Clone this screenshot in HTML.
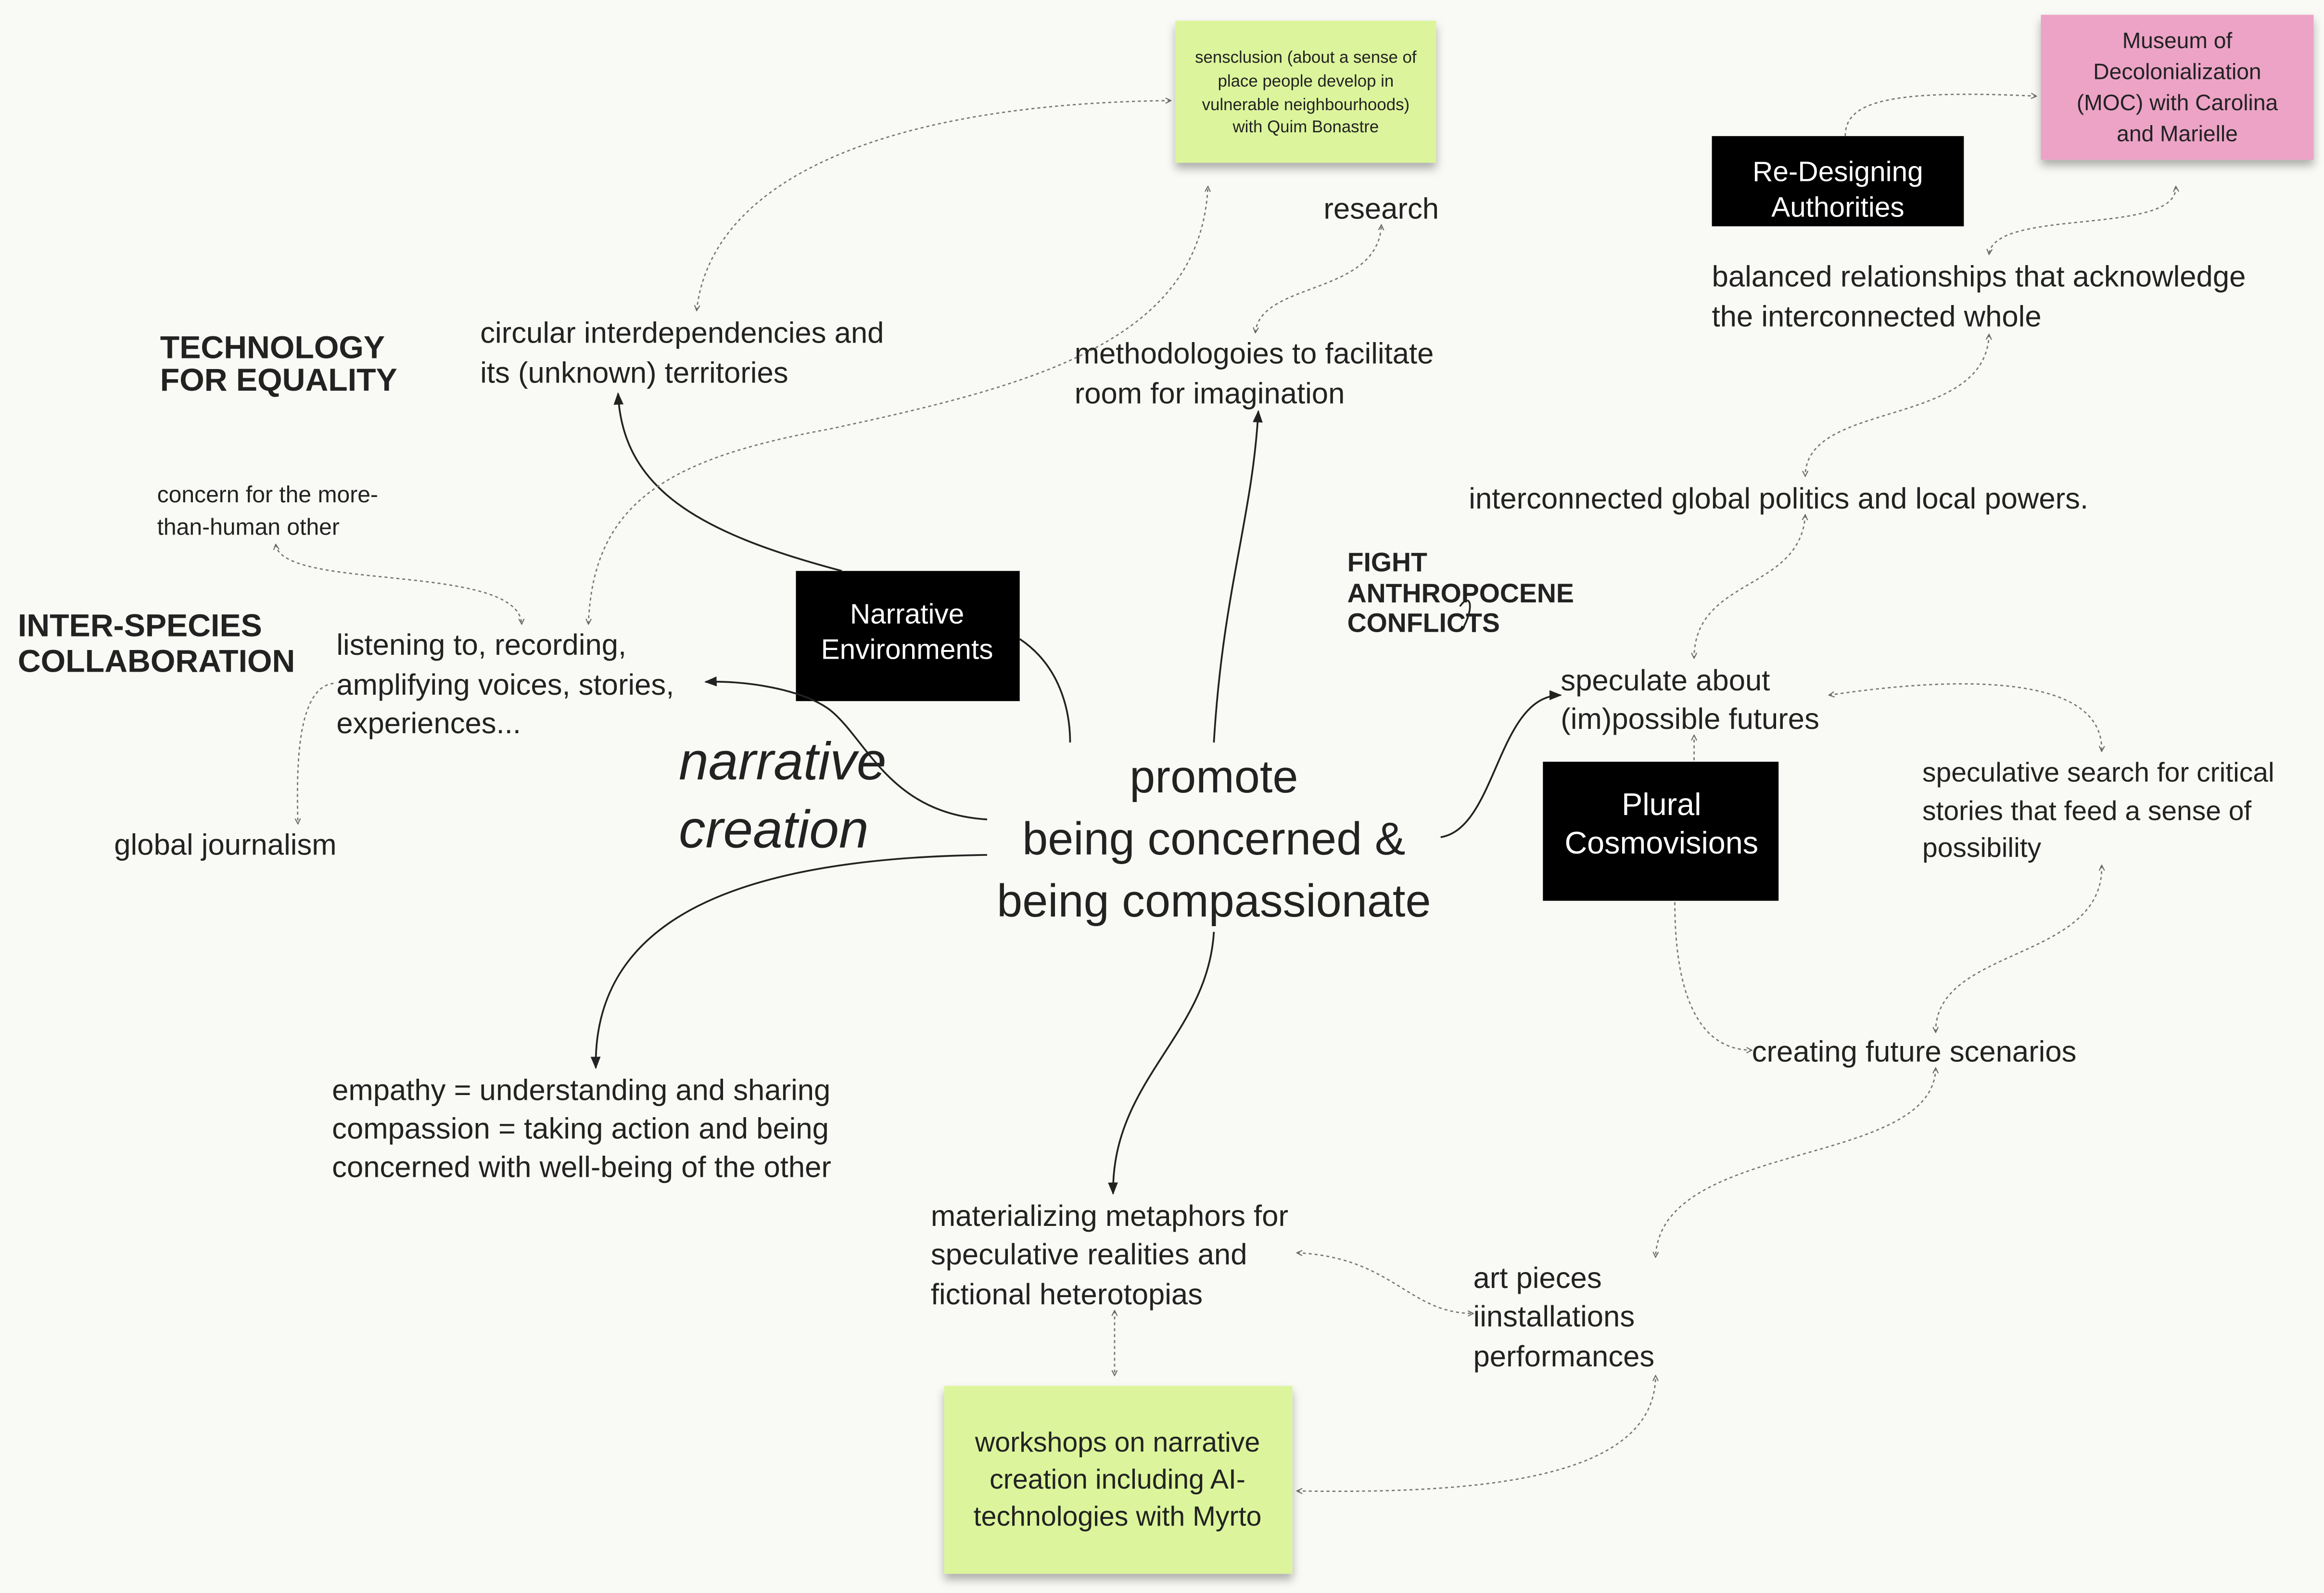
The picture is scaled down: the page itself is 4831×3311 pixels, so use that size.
<!DOCTYPE html>
<html><head><meta charset="utf-8"><style>
html,body{margin:0;padding:0;background:#f9f9f5;}
svg{display:block}
text{font-family:"Liberation Sans",sans-serif;fill:#222;dominant-baseline:middle;transform:translateY(2.5px)}
</style></head><body>
<svg width="4831" height="3311" viewBox="0 0 1568 1077" preserveAspectRatio="none" xmlns="http://www.w3.org/2000/svg">
<defs>
<marker id="ah" viewBox="0 0 10 10" refX="9" refY="5" markerWidth="7" markerHeight="7" orient="auto-start-reverse"><path d="M0,1 L10,5 L0,9 z" fill="#222"/></marker>
<marker id="dh" viewBox="0 0 10 10" refX="9" refY="5" markerWidth="5" markerHeight="5" orient="auto-start-reverse"><path d="M1,1 L9,5 L1,9" fill="none" stroke="#666" stroke-width="1.5"/></marker>
<filter id="sh" x="-10%" y="-10%" width="120%" height="140%"><feDropShadow dx="0" dy="4" stdDeviation="3" flood-color="#000" flood-opacity="0.3"/></filter>
</defs>
<rect width="1568" height="1077" fill="#f9f9f5"/>

<rect x="793" y="14" width="176" height="96" fill="#dcf59c" filter="url(#sh)"/>
<g font-size="11.3" text-anchor="middle">
<text x="881" y="37">sensclusion (about a sense of</text>
<text x="881" y="53">place people develop in</text>
<text x="881" y="69">vulnerable neighbourhoods)</text>
<text x="881" y="84">with Quim Bonastre</text>
</g>
<rect x="1377" y="10" width="184" height="98" fill="#eca3c6" filter="url(#sh)"/>
<g font-size="15" text-anchor="middle">
<text x="1469" y="26">Museum of</text>
<text x="1469" y="47">Decolonialization</text>
<text x="1469" y="68">(MOC) with Carolina</text>
<text x="1469" y="89">and Marielle</text>
</g>
<rect x="637" y="937" width="235" height="127" fill="#dcf59c" filter="url(#sh)"/>
<g font-size="18.6" text-anchor="middle">
<text x="754" y="974">workshops on narrative</text>
<text x="754" y="999">creation including AI-</text>
<text x="754" y="1024">technologies with Myrto</text>
</g>

<rect x="1155" y="92" width="170" height="61" fill="#000"/>
<text x="1240" y="115" font-size="19" text-anchor="middle" style="fill:#fff">Re-Designing</text>
<text x="1240" y="139" font-size="19" text-anchor="middle" style="fill:#fff">Authorities</text>
<rect x="537" y="386" width="151" height="88" fill="#000"/>
<text x="612" y="414" font-size="19" text-anchor="middle" style="fill:#fff">Narrative</text>
<text x="612" y="438" font-size="19" text-anchor="middle" style="fill:#fff">Environments</text>
<rect x="1041" y="515" width="159" height="94" fill="#000"/>
<text x="1121" y="543" font-size="21" text-anchor="middle" style="fill:#fff">Plural</text>
<text x="1121" y="569" font-size="21" text-anchor="middle" style="fill:#fff">Cosmovisions</text>

<g fill="none" stroke="#222" stroke-width="1.2">
<path d="M568,386 C470,360 420,330 417,266" marker-end="url(#ah)"/>
<path d="M688,432 C715,450 722,480 722,502"/>
<path d="M666,554 C600,550 585,500 560,480 C540,465 500,460 476,461" marker-end="url(#ah)"/>
<path d="M666,578 C500,580 400,620 402,722" marker-end="url(#ah)"/>
<path d="M819,502 C825,400 845,350 849,278" marker-end="url(#ah)"/>
<path d="M972,566 C1010,560 1010,470 1053,470" marker-end="url(#ah)"/>
<path d="M819,630 C815,700 750,730 751,807" marker-end="url(#ah)"/>
<path d="M985,410 C992,400 995,410 987,425" />
</g>

<g fill="none" stroke="#777" stroke-width="0.9" stroke-dasharray="2,2">
<path d="M470,210 C480,120 600,70 790,68" marker-start="url(#dh)" marker-end="url(#dh)"/>
<path d="M397,422 C400,340 450,310 560,290 C700,260 810,230 815,126" marker-start="url(#dh)" marker-end="url(#dh)"/>
<path d="M847,225 C850,190 930,200 932,152" marker-start="url(#dh)" marker-end="url(#dh)"/>
<path d="M1245,92 C1245,70 1270,60 1374,65" marker-end="url(#dh)"/>
<path d="M1468,126 C1470,160 1345,140 1342,172" marker-start="url(#dh)" marker-end="url(#dh)"/>
<path d="M1342,226 C1340,290 1218,270 1218,322" marker-start="url(#dh)" marker-end="url(#dh)"/>
<path d="M1218,348 C1215,400 1143,390 1143,445" marker-start="url(#dh)" marker-end="url(#dh)"/>
<path d="M1143,514 L1143,497" marker-end="url(#dh)"/>
<path d="M1234,470 C1300,460 1420,450 1418,508" marker-start="url(#dh)" marker-end="url(#dh)"/>
<path d="M1418,585 C1420,650 1305,640 1306,698" marker-start="url(#dh)" marker-end="url(#dh)"/>
<path d="M1130,610 C1130,680 1150,710 1182,710" marker-end="url(#dh)"/>
<path d="M1306,722 C1305,790 1120,770 1117,850" marker-start="url(#dh)" marker-end="url(#dh)"/>
<path d="M875,847 C940,850 950,888 994,888" marker-start="url(#dh)" marker-end="url(#dh)"/>
<path d="M752,886 L752,930" marker-start="url(#dh)" marker-end="url(#dh)"/>
<path d="M875,1008 C1000,1010 1117,1000 1117,930" marker-start="url(#dh)" marker-end="url(#dh)"/>
<path d="M186,368 C190,400 350,380 352,422" marker-start="url(#dh)" marker-end="url(#dh)"/>
<path d="M225,462 C200,465 200,520 201,557" marker-end="url(#dh)"/>
</g>

<g font-size="31" text-anchor="middle">
<text x="819" y="525">promote</text>
<text x="819" y="567">being concerned &amp;</text>
<text x="819" y="609">being compassionate</text>
</g>
<text x="458" y="515" font-size="36" font-style="italic">narrative</text>
<text x="458" y="561" font-size="36" font-style="italic">creation</text>

<g font-weight="bold" font-size="21.5">
<text x="108" y="234">TECHNOLOGY</text>
<text x="108" y="256">FOR EQUALITY</text>
<text x="12" y="422">INTER-SPECIES</text>
<text x="12" y="446">COLLABORATION</text>
</g>
<g font-weight="bold" font-size="18">
<text x="909" y="379">FIGHT</text>
<text x="909" y="400">ANTHROPOCENE</text>
<text x="909" y="420">CONFLICTS</text>
</g>

<g font-size="20">
<text x="324" y="224">circular interdependencies and</text>
<text x="324" y="251">its (unknown) territories</text>
<text x="893" y="140">research</text>
<text x="725" y="238">methodologoies to facilitate</text>
<text x="725" y="265">room for imagination</text>
<text x="1155" y="186">balanced  relationships that acknowledge</text>
<text x="1155" y="213">the interconnected whole</text>
<text x="991" y="336">interconnected global politics and local powers.</text>
<text x="227" y="435">listening to, recording,</text>
<text x="227" y="462">amplifying voices, stories,</text>
<text x="227" y="488">experiences...</text>
<text x="77" y="570">global journalism</text>
<text x="1053" y="459">speculate about</text>
<text x="1053" y="485">(im)possible futures</text>
<text x="1182" y="710">creating future scenarios</text>
<text x="224" y="736">empathy = understanding and sharing</text>
<text x="224" y="762">compassion = taking action and being</text>
<text x="224" y="788">concerned with well-being of the other</text>
<text x="628" y="821">materializing metaphors for</text>
<text x="628" y="847">speculative realities and</text>
<text x="628" y="874">fictional heterotopias</text>
<text x="994" y="863">art pieces</text>
<text x="994" y="889">iinstallations</text>
<text x="994" y="916">performances</text>
</g>
<g font-size="15.6">
<text x="106" y="333">concern for the more-</text>
<text x="106" y="355">than-human other</text>
</g>
<g font-size="18.5">
<text x="1297" y="521">speculative search for critical</text>
<text x="1297" y="547">stories that feed a sense of</text>
<text x="1297" y="572">possibility</text>
</g>
</svg>
</body></html>
